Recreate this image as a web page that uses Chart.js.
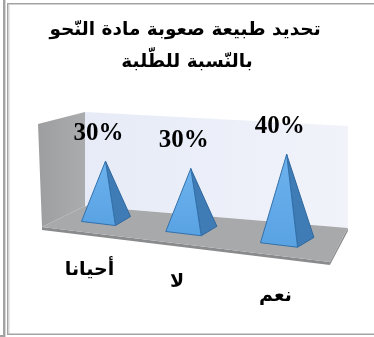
<!DOCTYPE html>
<html><head><meta charset="utf-8">
<script src="https://cdn.jsdelivr.net/npm/chart.js@4"></script>
<style>html,body{margin:0;padding:0;background:#fff;overflow:hidden}#wrap{position:absolute;left:0;top:0;width:374px;height:337px}</style>
</head><body><div id="wrap"><canvas id="c" width="374" height="337"></canvas></div>
<script>
const categories = ['أحيانا', 'لا', 'نعم'];
const values = [30, 30, 40];
const valueLabels = ['30%', '30%', '40%'];
const titleLines = ['تحديد طبيعة صعوبة مادة النّحو', 'بالنّسبة للطّلبة'];

// simple perspective helpers (pixel space)
const persp = {
  k: 0.000825,          // horizontal depth warp
  baseY0: 223.5, baseSlope: 0.119,
  grow: 0.0005
};

function frame(ctx) {
  ctx.save();
  ctx.fillStyle = '#a3a3a3';
  ctx.fillRect(3, 0, 2, 337);
  ctx.fillRect(0, 335, 5, 2);
  ctx.fillRect(7, 4, 1.5, 331);
  ctx.fillRect(7, 3, 367, 1.5);
  ctx.fillRect(7, 333.5, 367, 1.5);
  ctx.fillStyle = '#d6d6d6';
  ctx.fillRect(5, 0, 1, 337);
  ctx.fillRect(8.5, 4.5, 1, 329);
  ctx.restore();
}

function poly(ctx, pts, fill, stroke, lw) {
  ctx.beginPath();
  ctx.moveTo(pts[0][0], pts[0][1]);
  for (let i = 1; i < pts.length; i++) ctx.lineTo(pts[i][0], pts[i][1]);
  ctx.closePath();
  if (fill) { ctx.fillStyle = fill; ctx.fill(); }
  if (stroke) { ctx.strokeStyle = stroke; ctx.lineWidth = lw || 1; ctx.stroke(); }
}

const pyramidPlugin = {
  id: 'pyramid3d',
  beforeDraw(chart) {
    const ctx = chart.ctx;
    frame(ctx);
    ctx.save();
    ctx.fillStyle = '#000';
    ctx.textAlign = 'center';
    ctx.textBaseline = 'middle';
    ctx.font = 'bold 18.5px "DejaVu Sans", sans-serif';
    ctx.fillText(titleLines[0], 185, 30);
    ctx.fillText(titleLines[1], 187, 62);
    ctx.restore();
  },
  beforeDatasetsDraw(chart) {
    const ctx = chart.ctx;
    const a = chart.chartArea;
    // walls & floor derived from chart area
    const bl = [a.left + 26.4, a.top + 12], br = [a.right + 50, a.top + 26];
    const fbl = [a.left + 26.4, a.bottom + 2], fbr = [a.right + 50, a.bottom + 24];
    const ffl = [a.left - 16.6, a.bottom + 23], ffr = [a.right + 32, a.bottom + 58];
    const lwTop = [a.left - 20.6, a.top + 24];
    ctx.save();
    // back wall
    let g = ctx.createLinearGradient(bl[0], 0, br[0], 0);
    g.addColorStop(0, '#e6ebf7'); g.addColorStop(1, '#f1f3fa');
    poly(ctx, [bl, br, fbr, fbl], g);
    // left wall
    g = ctx.createLinearGradient(lwTop[0], 0, bl[0], 0);
    g.addColorStop(0, '#9d9ea0'); g.addColorStop(1, '#abacae');
    poly(ctx, [lwTop, bl, fbl, ffl], g);
    // floor slab edge
    poly(ctx, [ffl, ffr, [ffr[0], ffr[1] + 3], [ffl[0], ffl[1] + 3]], '#8a8b8d');
    poly(ctx, [ffr, fbr, [fbr[0], fbr[1] + 3], [ffr[0], ffr[1] + 3]], '#8a8b8d');
    // floor
    poly(ctx, [fbl, fbr, ffr, ffl], '#a8a9ab');
    ctx.restore();
  },
  afterDatasetsDraw(chart) {
    const ctx = chart.ctx;
    const meta = chart.getDatasetMeta(0);
    const x0 = meta.data[0].x;
    ctx.save();
    meta.data.forEach((bar, i) => {
      const cx = x0 + (bar.x - x0) * (1 + persp.k * (bar.x - x0));
      const s = 1 + persp.grow * (cx - x0);
      const by = persp.baseY0 + persp.baseSlope * (cx - x0);
      const h = (bar.base - bar.y) * s;
      const w = 34 * s;
      const fl = [cx - w / 2, by - 0.06 * w];
      const fr = [cx + w / 2, by + 0.06 * w];
      const bk = [fr[0] + 15 * s, fr[1] - 9 * s];
      const ap = [cx + 7 * s, by - h];
      // right face
      poly(ctx, [ap, fr, bk], '#3f7cb6', '#2f679e', 1);
      // front face
      const g = ctx.createLinearGradient(0, ap[1], 0, by);
      g.addColorStop(0, '#6cb2ee'); g.addColorStop(1, '#5aa3e3');
      poly(ctx, [ap, fl, fr], g, '#3371ab', 1);
      // value label
      ctx.fillStyle = '#000';
      ctx.font = 'bold 25px "Liberation Serif", serif';
      ctx.textAlign = 'center';
      ctx.textBaseline = 'middle';
      ctx.fillText(valueLabels[i], ap[0] - 7, ap[1] - 28);
      // category label
      ctx.font = 'bold 19px "DejaVu Sans", sans-serif';
      ctx.fillText(categories[i], cx - 9 + 60 * (s - 1), by + 47 + 40 * (s - 1));
    });
    ctx.restore();
  }
};

new Chart(document.getElementById('c'), {
  type: 'bar',
  data: {
    labels: categories,
    datasets: [{ data: values, backgroundColor: 'rgba(0,0,0,0)', borderWidth: 0 }]
  },
  options: {
    responsive: false,
    devicePixelRatio: 1,
    animation: false,
    layout: { padding: { left: 58.6, right: 76.1, top: 100, bottom: 133 } },
    scales: {
      x: { display: false, offset: true },
      y: { display: false, min: 0, max: 50 }
    },
    plugins: {
      legend: { display: false },
      tooltip: { enabled: false },
      title: { display: false }
    }
  },
  plugins: [pyramidPlugin]
});
</script></body></html>
